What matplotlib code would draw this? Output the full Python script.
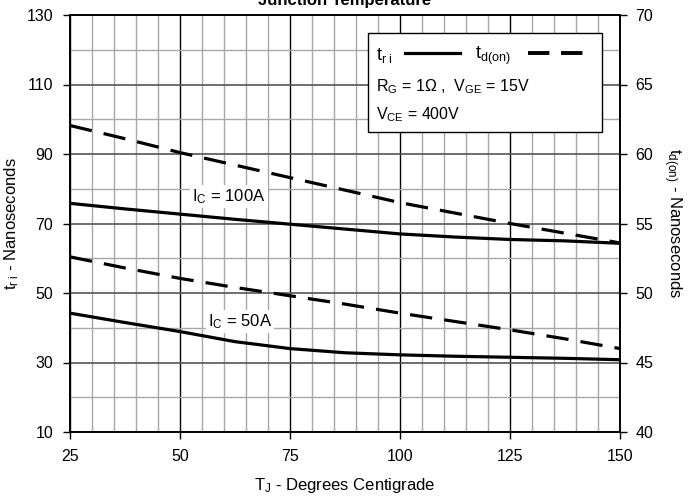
import matplotlib
matplotlib.use("Agg")
import matplotlib.pyplot as plt
from matplotlib.lines import Line2D
from matplotlib.patches import Rectangle
from matplotlib.ticker import MultipleLocator

plt.rcParams['font.family'] = ['Liberation Sans', 'DejaVu Sans']
plt.rcParams['mathtext.fontset'] = 'custom'
plt.rcParams['mathtext.rm'] = 'Liberation Sans'
plt.rcParams['mathtext.it'] = 'Liberation Sans'

# junction temperature (deg C)
temps = [25, 37.5, 50, 62.5, 75, 87.5, 100, 112.5, 125, 137.5, 150]

# current rise time t_ri (ns, left axis)
tri_100a = [75.8, 74.2, 72.7, 71.2, 69.8, 68.4, 67.0, 66.1, 65.4, 65.0, 64.3]
tri_50a = [44.2, 41.5, 38.9, 36.0, 34.0, 32.8, 32.2, 31.8, 31.5, 31.2, 30.8]

# turn-on delay t_d(on) (ns, right axis)
tdon_100a = [62.05, 61.1, 60.1, 59.2, 58.3, 57.4, 56.5, 55.75, 55.0, 54.3, 53.6]
tdon_50a = [52.6, 51.8, 51.05, 50.4, 49.8, 49.2, 48.55, 47.95, 47.35, 46.7, 46.0]

x_ticks = [25, 50, 75, 100, 125, 150]
left_ticks = [10, 30, 50, 70, 90, 110, 130]
right_ticks = [40, 45, 50, 55, 60, 65, 70]

fig = plt.figure(figsize=(6.89, 5.0), dpi=100)
ax = fig.add_axes([0.1016, 0.136, 0.7984, 0.834])
ax2 = ax.twinx()

ax.set_xlim(25, 150)
ax.set_ylim(10, 130)
ax2.set_ylim(40, 70)

# grid
ax.set_xticks(x_ticks)
ax.set_yticks(left_ticks)
ax2.set_yticks(right_ticks)
ax.xaxis.set_minor_locator(MultipleLocator(5))
ax.yaxis.set_minor_locator(MultipleLocator(10))
ax.grid(which='minor', axis='both', color='#a8a8a8', lw=1.0)
ax.grid(which='major', axis='x', color='black', lw=1.0)
ax.grid(which='major', axis='y', color='#555555', lw=1.2)
ax.set_axisbelow(True)

ax.tick_params(which='major', direction='out', length=5, width=1,
               labelsize=11.5, pad=7)
ax.tick_params(which='minor', length=0)
ax2.tick_params(which='major', direction='out', length=5, width=1,
                labelsize=11.5, pad=6)
for a in (ax, ax2):
    for s in a.spines.values():
        s.set_linewidth(1.2)
        s.set_color('black')

lw = 2.3
ax.plot(temps, tri_100a, color='black', lw=lw, zorder=3)
ax.plot(temps, tri_50a, color='black', lw=lw, zorder=3)
ax2.plot(temps, tdon_100a, color='black', lw=lw, dashes=(7, 3.8), zorder=3)
ax2.plot(temps, tdon_50a, color='black', lw=lw, dashes=(7, 3.8), zorder=3)

box = dict(facecolor='white', edgecolor='none', pad=1.5)
ax.text(61.1, 77.7, r'I$_{\rm C}$ = 100A', fontsize=12, ha='center',
        va='center', bbox=box, zorder=4)
ax.text(63.6, 41.7, r'I$_{\rm C}$ = 50A', fontsize=12, ha='center',
        va='center', bbox=box, zorder=4)

ax.set_xlabel(r'T$_{\rm J}$ - Degrees Centigrade', fontsize=12, labelpad=9)
ax.set_ylabel(r't$_{\rm r\ i}$ - Nanoseconds', fontsize=12, labelpad=4)
ax2.set_ylabel(r't$_{\rm d(on)}$ - Nanoseconds', fontsize=12,
               rotation=-90, labelpad=22)

# legend box
ax2.add_patch(Rectangle((0.542, 0.719), 0.425, 0.238, transform=ax2.transAxes,
                        facecolor='white', edgecolor='black', lw=1.0,
                        zorder=5))
ax2.text(0.557, 0.904, r't$_{\rm r\ i}$', transform=ax2.transAxes,
         fontsize=13, va='center', zorder=6)
ax2.add_line(Line2D([0.609, 0.709], [0.909, 0.909], transform=ax2.transAxes,
                    color='black', lw=lw, zorder=6))
ax2.text(0.736, 0.902, r't$_{\rm d(on)}$', transform=ax2.transAxes,
         fontsize=13, va='center', zorder=6)
ax2.add_line(Line2D([0.833, 0.936], [0.909, 0.909], transform=ax2.transAxes,
                    color='black', lw=2.8, dashes=(5.5, 3), zorder=6))
ax2.text(0.557, 0.827, r'R$_{\rm G}$ = 1$\Omega$ ,  V$_{\rm GE}$ = 15V',
         transform=ax2.transAxes, fontsize=11.5, va='center', zorder=6)
ax2.text(0.557, 0.760, r'V$_{\rm CE}$ = 400V', transform=ax2.transAxes,
         fontsize=11.5, va='center', zorder=6)

# title sits partly above the top edge, as in the reference
fig.text(0.5, 0.99, 'Junction Temperature', fontsize=12,
         fontweight='bold', ha='center', va='baseline')

fig.savefig('out.png', dpi=100)
